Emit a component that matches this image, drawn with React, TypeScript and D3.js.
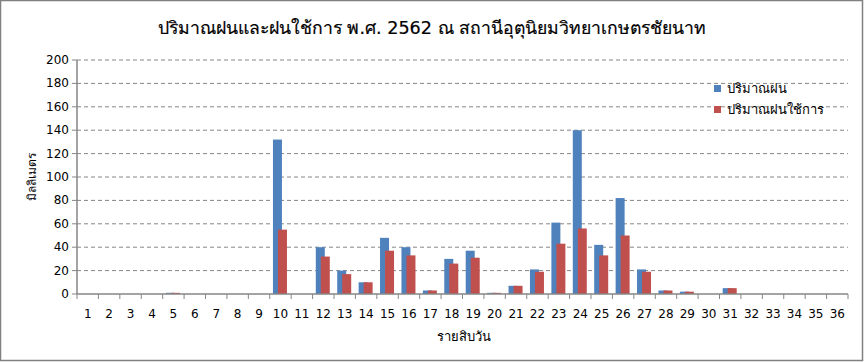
import React from "react";
import * as d3 from "d3";

const periods: string[] = Array.from({ length: 36 }, (_, i) => String(i + 1));
const rainfall: number[] = [0, 0, 0, 0, 1, 0, 0, 0, 0, 132, 0, 40, 20, 10, 48, 40, 3, 30, 37, 1, 7, 21, 61, 140, 42, 82, 21, 3, 2, 0, 5, 0, 0, 0, 0, 0];
const effectiveRain: number[] = [0, 0, 0, 0, 1, 0, 0, 0, 0, 55, 0, 32, 17, 10, 37, 33, 3, 26, 31, 1, 7, 19, 43, 56, 33, 50, 19, 3, 2, 0, 5, 0, 0, 0, 0, 0];
const yTicks: number[] = [0, 20, 40, 60, 80, 100, 120, 140, 160, 180, 200];
const seriesNames: string[] = ["ปริมาณฝน", "ปริมาณฝนใช้การ"];
const title = "ปริมาณฝนและฝนใช้การ พ.ศ. 2562 ณ สถานีอุตุนิยมวิทยาเกษตรชัยนาท";
const xTitle = "รายสิบวัน";
const yTitle = "มิลลิเมตร";

const W = 864;
const H = 362;
const FONT = "Tahoma, 'DejaVu Sans', 'Noto Sans', sans-serif";
const BLUE = "#4F81BD";
const RED = "#C0504D";

export default function App() {
  const left = 77;
  const right = 848;
  const top = 60;
  const bottom = 294;
  const x = d3.scaleBand<string>().domain(periods).range([left, right]).padding(0);
  const y = d3.scaleLinear().domain([0, 200]).range([bottom, top]);
  const bw = x.bandwidth() * 0.42;

  return (
    <svg
      width={W}
      height={H}
      style={{ position: "absolute", left: 0, top: 0, background: "#fff" }}
      fontFamily={FONT}
    >
      <rect x={0.5} y={0.5} width={862} height={360} fill="#fff" stroke="#808080" strokeWidth={1.5} />
      <text x={432} y={34} textAnchor="middle" fontSize={17.6} fill="#000" stroke="#000" strokeWidth={0.2}>
        {title}
      </text>

      {/* gridlines */}
      {yTicks.filter((t) => t > 0).map((t) => (
        <line
          key={"g" + t}
          x1={left}
          x2={right}
          y1={y(t)}
          y2={y(t)}
          stroke="#868686"
          strokeWidth={1}
          strokeDasharray="4,3"
        />
      ))}

      {/* bars */}
      {periods.map((p, i) => {
        const c = (x(p) as number) + x.bandwidth() / 2;
        return (
          <g key={"b" + p}>
            {rainfall[i] > 0 && (
              <rect x={c - 7.5} y={y(rainfall[i])} width={bw} height={bottom - y(rainfall[i])} fill={BLUE} />
            )}
            {effectiveRain[i] > 0 && (
              <rect x={c - 2.5} y={y(effectiveRain[i])} width={bw} height={bottom - y(effectiveRain[i])} fill={RED} />
            )}
          </g>
        );
      })}

      {/* y axis */}
      <line x1={left} x2={left} y1={top} y2={bottom} stroke="#868686" strokeWidth={1.5} />
      {yTicks.map((t) => (
        <g key={"y" + t}>
          <line x1={left - 5} x2={left} y1={y(t)} y2={y(t)} stroke="#868686" strokeWidth={1} />
          <text x={left - 8} y={y(t) + 4} textAnchor="end" fontSize={12} fill="#000">
            {t}
          </text>
        </g>
      ))}

      {/* x axis */}
      <line x1={left} x2={right} y1={bottom} y2={bottom} stroke="#868686" strokeWidth={1.5} />
      {periods.map((p) => (
        <line
          key={"xt" + p}
          x1={(x(p) as number)}
          x2={(x(p) as number)}
          y1={bottom}
          y2={bottom + 5}
          stroke="#868686"
          strokeWidth={1}
        />
      ))}
      <line x1={right} x2={right} y1={bottom} y2={bottom + 5} stroke="#868686" strokeWidth={1} />
      {periods.map((p) => (
        <text
          key={"xl" + p}
          x={(x(p) as number) + x.bandwidth() / 2}
          y={318}
          textAnchor="middle"
          fontSize={12}
          fill="#000"
        >
          {p}
        </text>
      ))}

      <text x={464} y={341} textAnchor="middle" fontSize={13} fill="#000">
        {xTitle}
      </text>
      <text
        transform={`translate(36,177) rotate(-90)`}
        textAnchor="middle"
        fontSize={12}
        fill="#000"
      >
        {yTitle}
      </text>

      {/* legend */}
      {seriesNames.map((n, i) => (
        <g key={"l" + i} transform={`translate(714,${90 + i * 21})`}>
          <rect x={0} y={-5} width={7} height={7} fill={i === 0 ? BLUE : RED} />
          <text x={13} y={3} fontSize={13} fill="#000">
            {n}
          </text>
        </g>
      ))}
    </svg>
  );
}
